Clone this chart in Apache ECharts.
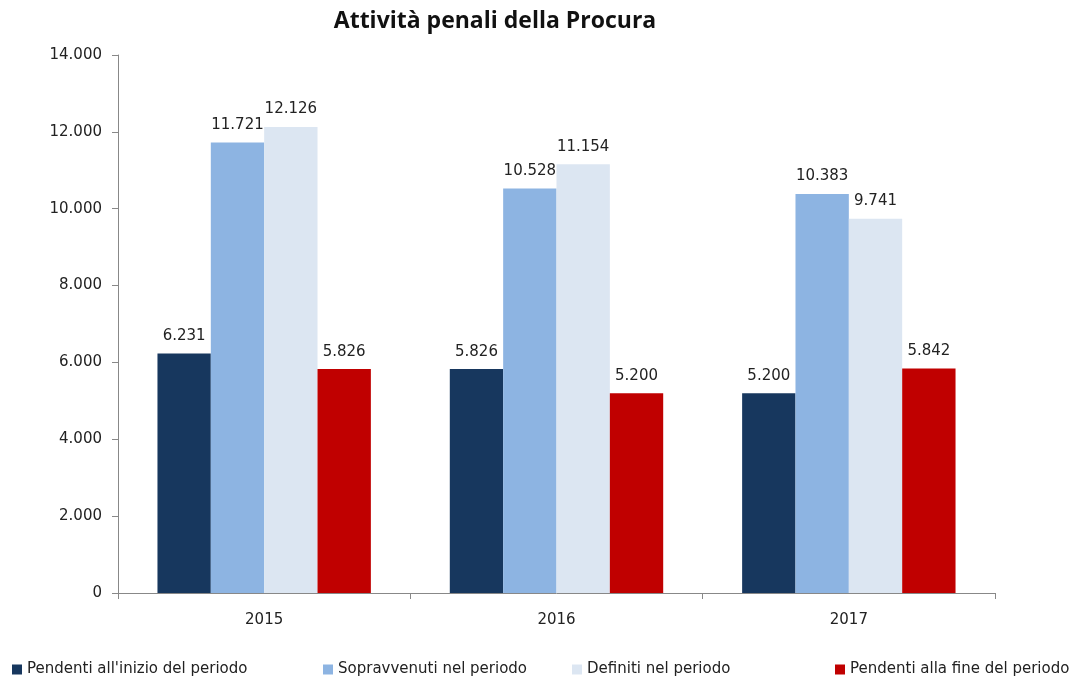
<!DOCTYPE html>
<html>
<head>
<meta charset="utf-8">
<script src="https://cdn.jsdelivr.net/npm/echarts@6/dist/echarts.min.js"></script>
<style>
  html, body { margin: 0; padding: 0; background: #fff; }
  #chart { width: 1086px; height: 680px; }
</style>
</head>
<body>
<div id="chart"></div>
<script>
// dati
var anni = ['2015', '2016', '2017'];
var pendentiInizio = [6231, 5826, 5200];
var sopravvenuti = [11721, 10528, 10383];
var definiti = [12126, 11154, 9741];
var pendentiFine = [5826, 5200, 5842];
var yTicks = [0, 2000, 4000, 6000, 8000, 10000, 12000, 14000];

var nomi = ["Pendenti all'inizio del periodo", 'Sopravvenuti nel periodo', 'Definiti nel periodo', 'Pendenti alla fine del periodo'];
var colori = ['#17375E', '#8DB4E2', '#DCE6F2', '#C00000'];
var font = '"DejaVu Sans", sans-serif';

// separatore migliaia con il punto
function fmt(v) {
  return String(v).replace(/\B(?=(\d{3})+(?!\d))/g, '.');
}

var chart = echarts.init(document.getElementById('chart'));

function serie(nome, dati, colore) {
  return {
    name: nome,
    type: 'bar',
    data: dati,
    barGap: '0%',
    barCategoryGap: '27%',
    itemStyle: { color: colore },
    label: {
      show: true,
      position: 'top',
      distance: 10,
      color: '#222',
      fontFamily: font,
      fontSize: 15,
      formatter: function (p) { return fmt(p.value); }
    }
  };
}

var legendLeft = [12, 323, 572, 835];

var option = {
  animation: false,
  title: {
    text: 'Attività penali della Procura',
    left: 490,
    textAlign: 'center',
    top: 5,
    textStyle: { fontFamily: '"Open Sans", sans-serif', fontWeight: 'bold', fontSize: 23, color: '#111' }
  },
  legend: nomi.map(function (n, i) {
    return {
      data: [n],
      left: legendLeft[i],
      top: 662,
      padding: 0,
      icon: 'rect',
      itemWidth: 10,
      itemHeight: 10,
      itemGap: 6,
      textStyle: { fontFamily: font, fontSize: 15, color: '#222' }
    };
  }),
  grid: { left: 118, right: 91, top: 55, bottom: 87 },
  xAxis: {
    type: 'category',
    data: anni,
    axisLine: { lineStyle: { color: '#888' } },
    axisTick: { show: true, length: 6, lineStyle: { color: '#888' } },
    axisLabel: { fontFamily: font, fontSize: 15, color: '#222', margin: 20 }
  },
  yAxis: {
    type: 'value',
    min: yTicks[0],
    max: yTicks[yTicks.length - 1],
    interval: 2000,
    axisLine: { show: true, lineStyle: { color: '#888' } },
    axisTick: { show: true, length: 6, lineStyle: { color: '#888' } },
    splitLine: { show: false },
    axisLabel: {
      fontFamily: font, fontSize: 15, color: '#222', margin: 16,
      formatter: function (v) { return fmt(v); }
    }
  },
  series: [
    serie(nomi[0], pendentiInizio, colori[0]),
    serie(nomi[1], sopravvenuti, colori[1]),
    serie(nomi[2], definiti, colori[2]),
    serie(nomi[3], pendentiFine, colori[3])
  ]
};

chart.setOption(option);
</script>
</body>
</html>
